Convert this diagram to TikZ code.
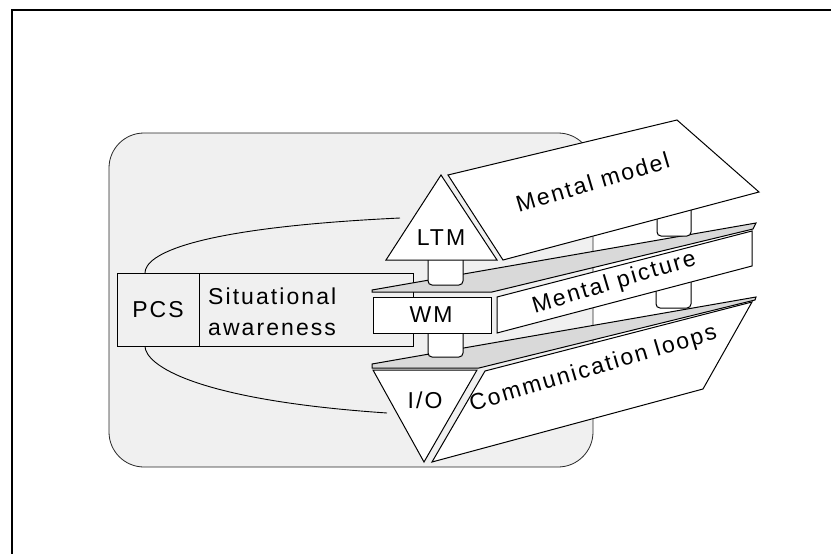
\documentclass[tikz,border=0pt]{standalone}
\usepackage{fontspec}
\setmainfont{Liberation Sans}[LetterSpace=9]
\begin{document}
\begin{tikzpicture}[x=1pt,y=-1pt,
  lbl/.style={font=\fontsize{23}{27}\selectfont, inner sep=0pt},
  shapeline/.style={draw=black, line width=1pt, line join=miter},
  panel/.style={shapeline, fill=white},
  ledge/.style={shapeline, fill=black!15},
  peg/.style={draw=black, line width=1pt, fill=white, rounded corners=4pt},
  loopline/.style={draw=black, line width=0.9pt}]
\useasboundingbox (0,0) rectangle (831,554);

% outer frame, running off the page to the right and bottom
\draw[line width=2pt] (12,570) -- (12,10) -- (850,10);

% shaded background panel
\draw[line width=0.8pt, draw=black!85, fill=black!6, rounded corners=35pt]
  (109,133) rectangle (593,467);

% loop end points
\coordinate (pcstop) at (145,273);
\coordinate (pcsbot) at (145,346);
\coordinate (ltmend) at (400,218);
\coordinate (ioend) at (387,413);

% feedback loops
\draw[loopline] (pcstop) .. controls (145,255) and (190,228) .. (ltmend);
\draw[loopline] (pcsbot) .. controls (145,365) and (195,400) .. (ioend);

% PCS / situational awareness box
\draw[shapeline, fill=black!6] (117,273) rectangle (413,346);
\draw[shapeline] (199,273) -- (199,346);
\node[lbl, anchor=base] (pcs) at (158,317) {PCS};
\node[lbl, anchor=base west] (sit) at (208,304) {Situational};
\node[lbl, anchor=base west] (awa) at (208,335) {awareness};

% bottom layer: ledge, pegs, I/O and communication loops
\path[ledge] (372,364) -- (756,297) -- (755,300) -- (479,368) -- (372,368) -- cycle;
\path[peg] (428,330) -- (428,357) -- (463,357) -- (463,330);
\path[peg] (656,280) -- (656,308) -- (691,308) -- (691,280);
\path[panel] (373,370) -- (477,370) -- (424,462) -- cycle;
\path[panel] (485,371) -- (752,302) -- (703,389) -- (432,462) -- cycle;
\node[lbl, anchor=base] (io) at (425,408) {I/O};
\node[lbl, anchor=base, rotate=16.5] (comm) at (595,375) {Communication loops};

% middle layer: ledge, pegs, WM and mental picture
\path[ledge] (372,290) -- (756,223) -- (753,229) -- (492,292) -- (372,292) -- cycle;
\path[peg] (428,250) -- (428,285) -- (463,285) -- (463,250);
\path[peg] (657,200) -- (657,236) -- (691,236) -- (691,200);
\path[panel] (373,297) rectangle (491,333);
\path[panel] (497,297) -- (752,231) -- (752,266) -- (497,333) -- cycle;
\node[lbl, anchor=base] (wm) at (431,322) {WM};
\node[lbl, anchor=base, rotate=16.5] (mp) at (616,289) {Mental picture};

% top layer: LTM and mental model
\path[panel] (386,260) -- (441,175) -- (497,260) -- cycle;
\path[panel] (448,175) -- (677,120) -- (759,192) -- (503,260) -- cycle;
\node[lbl, anchor=base] (ltm) at (441,245) {LTM};
\node[lbl, anchor=base, rotate=16.5] (mm) at (595,190) {Mental model};
\end{tikzpicture}
\end{document}
